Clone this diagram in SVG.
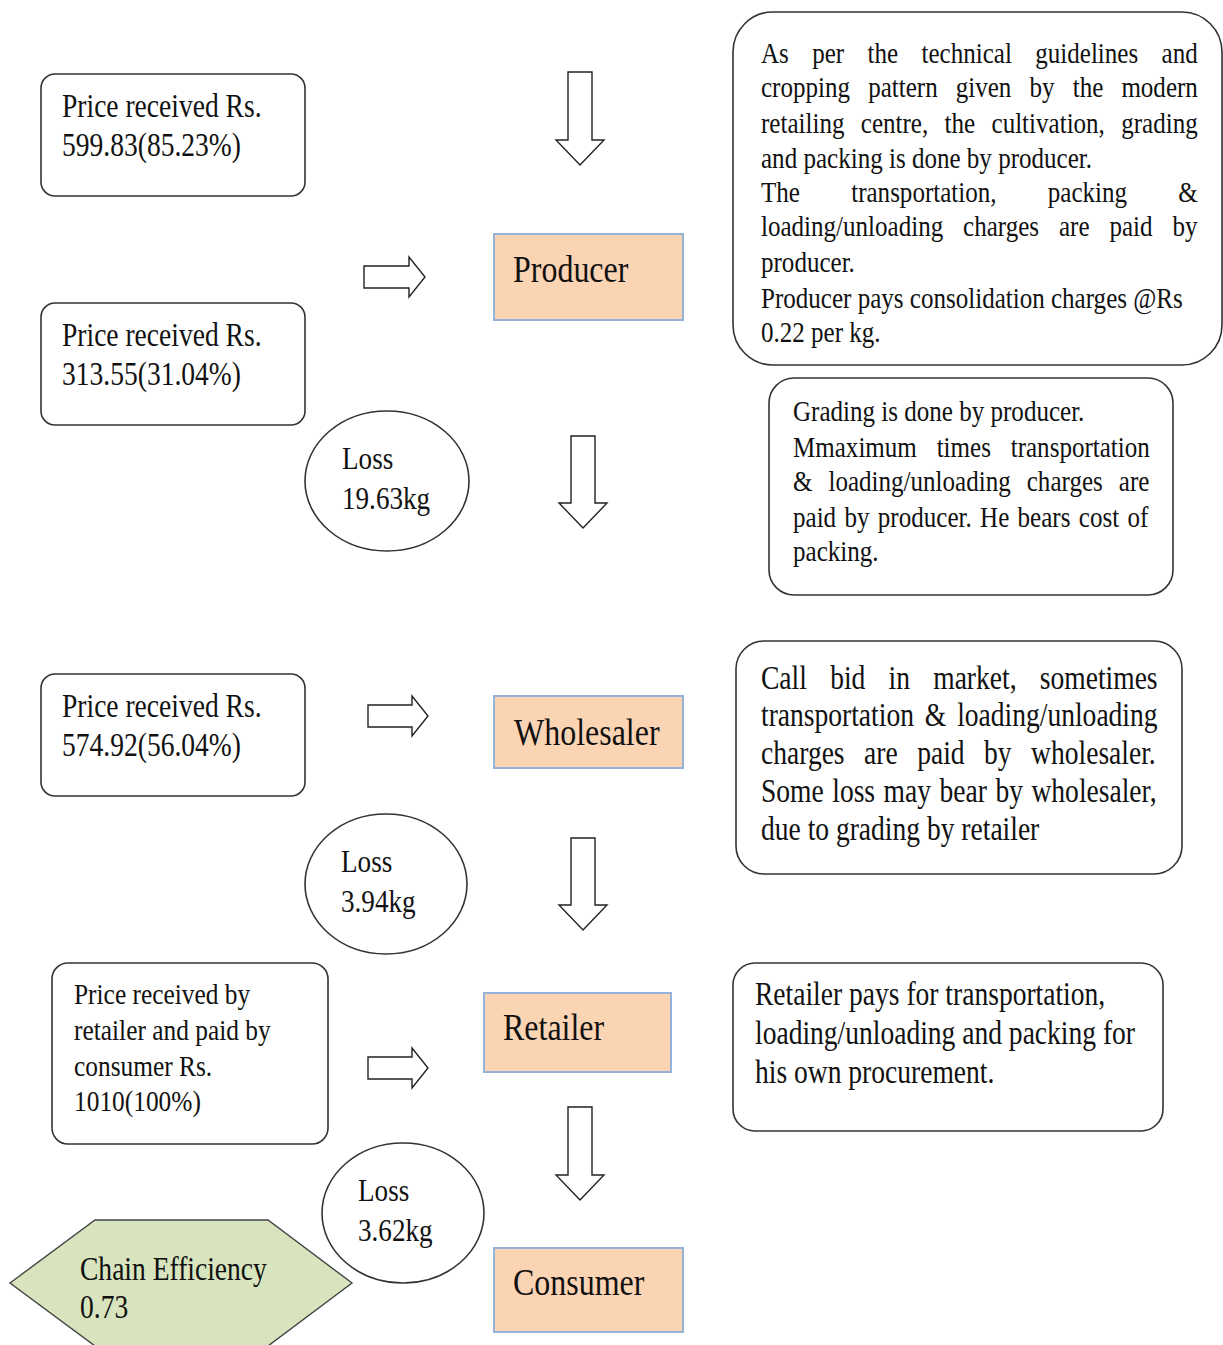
<svg xmlns="http://www.w3.org/2000/svg" width="1223" height="1345" viewBox="0 0 1223 1345">
<style>
.box{fill:#fff;stroke:#333;stroke-width:1.6}
.node{fill:#fbd4b4;stroke:#95b3d7;stroke-width:2}
.arr{fill:#fff;stroke:#222;stroke-width:1.4;stroke-linejoin:miter}
.t{font-family:"Liberation Serif","Times New Roman",serif;fill:#111}
.f33{font-size:33px}.f30{font-size:30px}.f304{font-size:30.4px}.f38{font-size:38.3px}.f325{font-size:32.5px}
</style>
<rect width="1223" height="1345" fill="#fff"/>

<g id="connectors">
<path class="arr" d="M568,72 H592 V140 H604 L580,165 L556,140 H568 Z"/>
<path class="arr" d="M571,436 H595 V503 H607 L583,528 L559,503 H571 Z"/>
<path class="arr" d="M571,838 H595 V905 H607 L583,930 L559,905 H571 Z"/>
<path class="arr" d="M568,1107 H592 V1175 H604 L580,1200 L556,1175 H568 Z"/>
<path class="arr" d="M364,266 H409 V257 L425,277 L409,297 V288 H364 Z"/>
<path class="arr" d="M368,705 H412 V696 L428,716 L412,736 V727 H368 Z"/>
<path class="arr" d="M368,1057 H412 V1048 L428,1068 L412,1088 V1079 H368 Z"/>
</g>

<g id="price-producer">
<rect class="box" x="41" y="74" width="264" height="122" rx="14"/>
<g transform="translate(62,0) scale(0.835,1)"><text class="t f33"><tspan x="0" y="117">Price received Rs.</tspan><tspan x="0" y="156">599.83(85.23%)</tspan></text></g>
</g>

<g id="price-2">
<rect class="box" x="41" y="303" width="264" height="122" rx="14"/>
<g transform="translate(62,0) scale(0.835,1)"><text class="t f33"><tspan x="0" y="346">Price received Rs.</tspan><tspan x="0" y="385">313.55(31.04%)</tspan></text></g>
</g>

<g id="price-wholesaler">
<rect class="box" x="41" y="674" width="264" height="122" rx="14"/>
<g transform="translate(62,0) scale(0.835,1)"><text class="t f33"><tspan x="0" y="717">Price received Rs.</tspan><tspan x="0" y="756">574.92(56.04%)</tspan></text></g>
</g>

<g id="price-retailer">
<rect class="box" x="52" y="963" width="276" height="181" rx="16"/>
<g transform="translate(74,0) scale(0.835,1)"><text class="t f304"><tspan x="0" y="1004">Price received by</tspan><tspan x="0" y="1040">retailer and paid by</tspan><tspan x="0" y="1076">consumer Rs.</tspan><tspan x="0" y="1111">1010(100%)</tspan></text></g>
</g>

<g id="producer">
<rect class="node" x="494" y="234" width="189" height="86"/>
<g transform="translate(513,0) scale(0.835,1)"><text class="t f38" x="0" y="282">Producer</text></g>
</g>

<g id="wholesaler">
<rect class="node" x="494" y="696" width="189" height="72"/>
<g transform="translate(514,0) scale(0.835,1)"><text class="t f38" x="0" y="745">Wholesaler</text></g>
</g>

<g id="retailer">
<rect class="node" x="484" y="993" width="187" height="79"/>
<g transform="translate(503,0) scale(0.835,1)"><text class="t f38" x="0" y="1040">Retailer</text></g>
</g>

<g id="consumer">
<rect class="node" x="494" y="1248" width="189" height="84"/>
<g transform="translate(513,0) scale(0.835,1)"><text class="t f38" x="0" y="1295">Consumer</text></g>
</g>

<g id="loss-1">
<ellipse class="box" cx="387" cy="481" rx="82" ry="70"/>
<g transform="translate(342,0) scale(0.835,1)"><text class="t f325"><tspan x="0" y="469">Loss</tspan><tspan x="0" y="509">19.63kg</tspan></text></g>
</g>

<g id="loss-2">
<ellipse class="box" cx="386" cy="884" rx="81" ry="70"/>
<g transform="translate(341,0) scale(0.835,1)"><text class="t f325"><tspan x="0" y="872">Loss</tspan><tspan x="0" y="912">3.94kg</tspan></text></g>
</g>

<g id="loss-3">
<ellipse class="box" cx="403" cy="1213" rx="81" ry="70"/>
<g transform="translate(358,0) scale(0.835,1)"><text class="t f325"><tspan x="0" y="1201">Loss</tspan><tspan x="0" y="1241">3.62kg</tspan></text></g>
</g>

<g id="chain-efficiency">
<polygon points="10,1283 95,1220 268,1220 352,1283 268,1346 95,1346" fill="#d7e4bd" stroke="#444" stroke-width="1.4"/>
<g transform="translate(80,0) scale(0.835,1)"><text class="t f33"><tspan x="0" y="1280">Chain Efficiency</tspan><tspan x="0" y="1318">0.73</tspan></text></g>
</g>

<g id="note-producer">
<rect class="box" x="733" y="12" width="489" height="353" rx="40"/>
<g transform="translate(761,0) scale(0.835,1)">
<text class="t f30" x="0" y="63" word-spacing="20.5">As per the technical guidelines and</text>
<text class="t f30" x="0" y="97" word-spacing="14.2">cropping pattern given by the modern</text>
<text class="t f30" x="0" y="133" word-spacing="12.1">retailing centre, the cultivation, grading</text>
<text class="t f30" x="0" y="168">and packing is done by producer.</text>
<text class="t f30" x="0" y="202" word-spacing="53.9">The transportation, packing &amp;</text>
<text class="t f30" x="0" y="236" word-spacing="16.3">loading/unloading charges are paid by</text>
<text class="t f30" x="0" y="272">producer.</text>
<text class="t f30" x="0" y="308">Producer pays consolidation charges @Rs</text>
<text class="t f30" x="0" y="342">0.22 per kg.</text>
</g>
</g>

<g id="note-grading">
<rect class="box" x="769" y="378" width="404" height="217" rx="25"/>
<g transform="translate(793,0) scale(0.835,1)">
<text class="t f30" x="0" y="421">Grading is done by producer.</text>
<text class="t f30" x="0" y="457" word-spacing="16.25">Mmaximum times transportation</text>
<text class="t f30" x="0" y="491" word-spacing="11.7">&amp; loading/unloading charges are</text>
<text class="t f30" x="0" y="527" word-spacing="2.5">paid by producer. He bears cost of</text>
<text class="t f30" x="0" y="561">packing.</text>
</g>
</g>

<g id="note-wholesaler">
<rect class="box" x="736" y="641" width="446" height="233" rx="28"/>
<g transform="translate(761,0) scale(0.835,1)">
<text class="t f33" x="0" y="689" word-spacing="19.6">Call bid in market, sometimes</text>
<text class="t f33" x="0" y="726" word-spacing="4.85">transportation &amp; loading/unloading</text>
<text class="t f33" x="0" y="764" word-spacing="15.1">charges are paid by wholesaler.</text>
<text class="t f33" x="0" y="802" word-spacing="1.96">Some loss may bear by wholesaler,</text>
<text class="t f33" x="0" y="840">due to grading by retailer</text>
</g>
</g>

<g id="note-retailer">
<rect class="box" x="733" y="963" width="430" height="168" rx="22"/>
<g transform="translate(755,0) scale(0.835,1)">
<text class="t f33" x="0" y="1005">Retailer pays for transportation,</text>
<text class="t f33" x="0" y="1044">loading/unloading and packing for</text>
<text class="t f33" x="0" y="1083">his own procurement.</text>
</g>
</g>
</svg>
